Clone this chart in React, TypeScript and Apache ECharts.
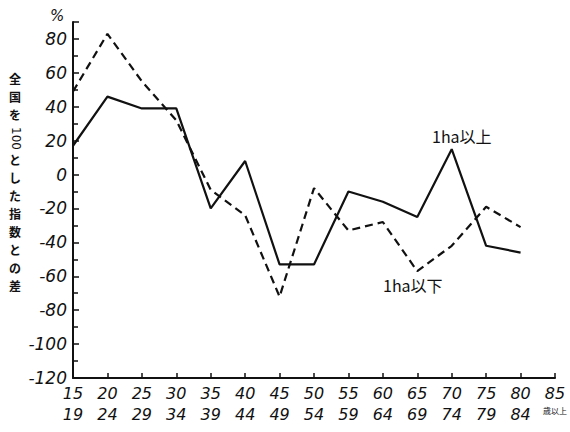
import React, { useEffect, useRef } from "react";
import * as echarts from "echarts";

const ageStarts = ["15", "20", "25", "30", "35", "40", "45", "50", "55", "60", "65", "70", "75", "80", "85"];
const ageEnds = ["19", "24", "29", "34", "39", "44", "49", "54", "59", "64", "69", "74", "79", "84", "歳以上"];
const over1ha = [17, 46, 39, 39, -20, 8, -53, -53, -10, -16, -25, 15, -42, -46];
const under1ha = [49, 83, 55, 32, -9, -24, -72, -8, -33, -28, -57, -42, -19, -31];
const yTicks = [-120, -100, -80, -60, -40, -20, 0, 20, 40, 60, 80];
const titleTop = ["全", "国", "を"];
const titleBottom = ["と", "し", "た", "指", "数", "と", "の", "差"];

export default function App() {
  const ref = useRef<HTMLDivElement>(null);
  useEffect(() => {
    if (!ref.current) return;
    const chart = echarts.init(ref.current, null, { renderer: "svg" });
    const cats = ageStarts.map((s, i) => s + "|" + ageEnds[i]);
    const digitFont = "'DejaVu Sans', sans-serif";
    const cjk = "'Noto Sans CJK JP', sans-serif";
    const charStep = 18;
    const titleChars: any[] = [];
    titleTop.forEach((c, i) => {
      titleChars.push({
        type: "text",
        x: 9,
        y: 72 + i * charStep,
        style: { text: c, font: "bold 12px 'Noto Sans CJK JP'", fill: "#111" },
      });
    });
    titleBottom.forEach((c, i) => {
      titleChars.push({
        type: "text",
        x: 9,
        y: 153 + i * charStep,
        style: { text: c, font: "bold 12px 'Noto Sans CJK JP'", fill: "#111" },
      });
    });
    chart.setOption({
      animation: false,
      backgroundColor: "#ffffff",
      grid: { left: 73, right: 13, top: 22, bottom: 54, containLabel: false },
      xAxis: {
        type: "category",
        data: cats,
        boundaryGap: false,
        axisLine: { onZero: false, lineStyle: { color: "#111", width: 2 } },
        axisTick: { inside: true, length: 5, alignWithLabel: true, lineStyle: { color: "#111", width: 1.5 } },
        axisLabel: {
          interval: 0,
          margin: 5,
          formatter: (v: string) => {
            const [a, b] = v.split("|");
            if (b === "歳以上") return `{a|${a}}\n{c|歳以上}`;
            return `{a|${a}}\n{a|${b}}`;
          },
          rich: {
            a: { fontFamily: digitFont, fontStyle: "italic", fontSize: 16, lineHeight: 21, color: "#111" },
            c: { fontFamily: cjk, fontSize: 8, lineHeight: 12, color: "#111" },
          },
        },
        splitLine: { show: false },
      },
      yAxis: {
        type: "value",
        min: -120,
        max: 90,
        interval: 20,
        axisLine: { show: true, lineStyle: { color: "#111", width: 2 } },
        axisTick: { show: true, inside: true, length: 6, lineStyle: { color: "#111", width: 1.5 } },
        minorTick: { show: true, splitNumber: 2, length: 5, lineStyle: { color: "#111", width: 1.5 } },
        axisLabel: {
          margin: 6,
          showMaxLabel: false,
          formatter: (v: number) => (yTicks.includes(v) ? String(v) : ""),
          fontFamily: digitFont,
          fontStyle: "italic",
          fontSize: 17,
          color: "#111",
        },
        splitLine: { show: false },
      },
      series: [
        {
          name: "1ha以上",
          type: "line",
          data: over1ha,
          symbol: "none",
          lineStyle: { color: "#111", width: 2.2 },
        },
        {
          name: "1ha以下",
          type: "line",
          data: under1ha,
          symbol: "none",
          lineStyle: { color: "#111", width: 2.2, type: [8, 5] },
        },
      ],
      graphic: [
        { type: "text", left: 50, top: 8, style: { text: "%", font: "italic 15px 'DejaVu Sans'", fill: "#111" } },
        ...titleChars,
        {
          type: "text",
          x: 22,
          y: 127,
          rotation: -Math.PI / 2,
          style: { text: "100", font: "12px 'DejaVu Sans'", fill: "#111" },
        },
        {
          type: "text",
          x: 432,
          y: 128,
          style: { text: "1ha以上", font: "16px 'Noto Sans CJK JP'", fill: "#111" },
        },
        {
          type: "text",
          x: 383,
          y: 277,
          style: { text: "1ha以下", font: "16px 'Noto Sans CJK JP'", fill: "#111" },
        },
      ],
    });
    return () => chart.dispose();
  }, []);
  return <div ref={ref} style={{ width: 570, height: 432, position: "fixed", left: 0, top: 0 }} />;
}
